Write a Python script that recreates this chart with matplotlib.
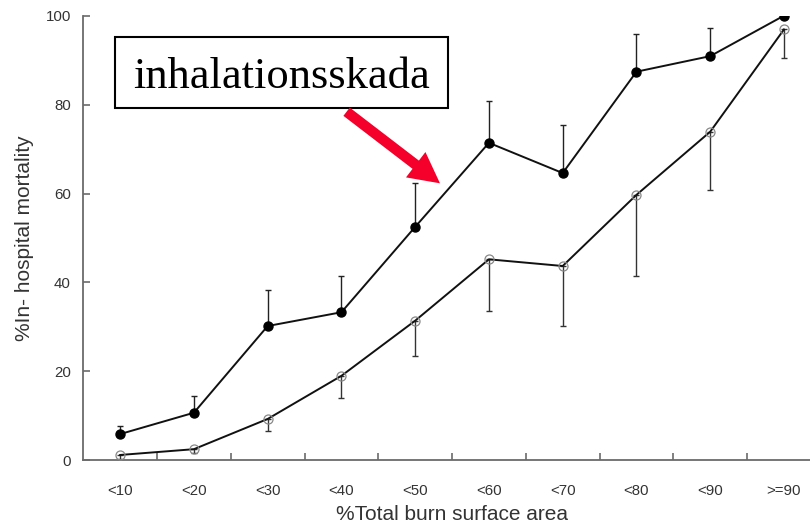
import matplotlib
matplotlib.use('Agg')
import matplotlib.pyplot as plt
from matplotlib.patches import Rectangle
import numpy as np

# --- Data ---
categories = ['<10', '<20', '<30', '<40', '<50', '<60', '<70', '<80', '<90', '>=90']

# with inhalation injury (filled circles), error bars pointing up
inh_mean  = [5.9, 10.7, 30.2, 33.3, 52.5, 71.4, 64.6, 87.4, 90.9, 100.0]
inh_upper = [7.7, 14.5, 38.3, 41.5, 62.4, 80.9, 75.3, 95.8, 97.3, None]

# without inhalation injury (open circles), error bars pointing down
no_mean  = [1.2, 2.5, 9.3, 19.0, 31.4, 45.2, 43.7, 59.7, 73.9, 96.9]
no_lower = [0.4, 1.6, 6.6, 14.1, 23.5, 33.6, 30.2, 41.4, 60.7, 90.5]

label_text = 'inhalationsskada'

x = np.arange(len(categories))

fig = plt.figure(figsize=(8.1, 5.26), dpi=100)
ax = fig.add_axes([0.1028, 0.1249, 0.9106, 0.8453])

axis_col = '#6b6b6b'
txt_col = '#333333'

# error bars
idx = [i for i, u in enumerate(inh_upper) if u is not None]
ax.errorbar(x[idx], [inh_mean[i] for i in idx],
            yerr=[np.zeros(len(idx)), [inh_upper[i] - inh_mean[i] for i in idx]],
            fmt='none', ecolor='#222222', elinewidth=1.0, capsize=2.5,
            capthick=1.0, zorder=2)
ax.errorbar(x, no_mean,
            yerr=[np.array(no_mean) - np.array(no_lower), np.zeros(len(x))],
            fmt='none', ecolor='#333333', elinewidth=1.0, capsize=2.5,
            capthick=1.0, zorder=2)

# lines + markers
ax.plot(x, inh_mean, color='#111111', lw=1.4, marker='o', ms=6.5,
        mfc='#000000', mec='#000000', zorder=3)
ax.plot(x, no_mean, color='#111111', lw=1.4, zorder=3)
ax.plot(x, no_mean, ls='none', marker='o', ms=6.5, mfc='none',
        mec='#888888', mew=0.9, zorder=4)

ax.set_xlim(-0.5, 9.5)
ax.set_ylim(0, 100)

ax.set_xticks(x)
ax.set_xticklabels(categories)
ax.set_xticks(x[:-1] + 0.5, minor=True)
ax.tick_params(axis='x', which='major', length=0, pad=17,
               labelsize=10.8, labelcolor=txt_col)
ax.tick_params(axis='x', which='minor', direction='in', length=5,
               width=1.2, color=axis_col)
ax.set_yticks([0, 20, 40, 60, 80, 100])
ax.tick_params(axis='y', direction='in', length=5, width=1.2,
               color=axis_col, pad=9, labelsize=10.8, labelcolor=txt_col)

for lab in ax.get_xticklabels() + ax.get_yticklabels():
    lab.set_family('Liberation Sans')

ax.spines[['top', 'right']].set_visible(False)
for s in ('left', 'bottom'):
    ax.spines[s].set_color(axis_col)
    ax.spines[s].set_linewidth(1.3)

ax.set_xlabel('%Total burn surface area', fontsize=15, family='Liberation Sans',
              color=txt_col, labelpad=5)
ax.set_ylabel('%In- hospital mortality', fontsize=15, family='Liberation Sans',
              color=txt_col, labelpad=8)

# annotation box + arrow
ax.add_patch(Rectangle((-0.068, 79.2), 4.512, 16.0, facecolor='white',
                       edgecolor='black', lw=1.5, zorder=5, clip_on=False))
ax.text(2.188, 83.7, label_text, ha='center', va='baseline',
        fontsize=32, family='Liberation Serif', color='black', zorder=6)

ax.annotate('', xy=(4.336, 62.3), xytext=(3.07, 78.4),
            arrowprops=dict(facecolor='#f5002a', edgecolor='none',
                            width=7.5, headwidth=23, headlength=22, shrink=0),
            zorder=6)

fig.savefig('out.png', dpi=100)
